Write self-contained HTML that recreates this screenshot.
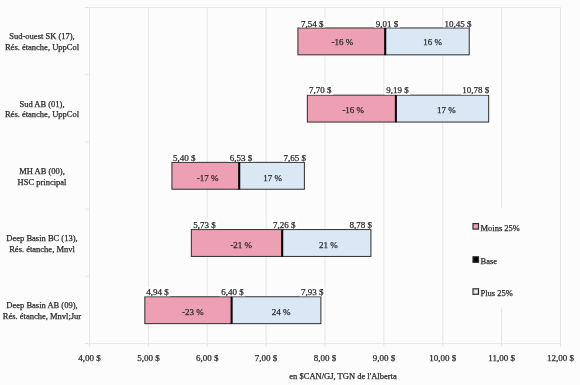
<!DOCTYPE html><html><head><meta charset="utf-8"><style>html,body{margin:0;padding:0;background:#fcfcfc;}svg{display:block;filter:blur(0.45px);} text{font-family:"Liberation Serif",serif;fill:#2a2a2a;stroke:#2a2a2a;stroke-width:0.25px;}</style></head><body>
<svg width="580" height="385" viewBox="0 0 580 385">
<rect x="0" y="0" width="580" height="385" fill="#fcfcfc"/>
<line x1="89.50" y1="7.5" x2="89.50" y2="346.5" stroke="#e6e6e6" stroke-width="1"/>
<line x1="148.38" y1="7.5" x2="148.38" y2="346.5" stroke="#e6e6e6" stroke-width="1"/>
<line x1="207.25" y1="7.5" x2="207.25" y2="346.5" stroke="#e6e6e6" stroke-width="1"/>
<line x1="266.12" y1="7.5" x2="266.12" y2="346.5" stroke="#e6e6e6" stroke-width="1"/>
<line x1="325.00" y1="7.5" x2="325.00" y2="346.5" stroke="#e6e6e6" stroke-width="1"/>
<line x1="383.88" y1="7.5" x2="383.88" y2="346.5" stroke="#e6e6e6" stroke-width="1"/>
<line x1="442.75" y1="7.5" x2="442.75" y2="346.5" stroke="#e6e6e6" stroke-width="1"/>
<line x1="501.62" y1="7.5" x2="501.62" y2="346.5" stroke="#e6e6e6" stroke-width="1"/>
<line x1="560.50" y1="7.5" x2="560.50" y2="346.5" stroke="#e6e6e6" stroke-width="1"/>
<line x1="89.5" y1="7.5" x2="560.5" y2="7.5" stroke="#e6e6e6" stroke-width="1"/>
<line x1="89.5" y1="343.5" x2="560.5" y2="343.5" stroke="#e6e6e6" stroke-width="1"/>
<rect x="466" y="208.5" width="66" height="99" fill="#fcfcfc"/>
<line x1="85" y1="7.50" x2="89.5" y2="7.50" stroke="#e6e6e6" stroke-width="1"/>
<line x1="85" y1="74.70" x2="89.5" y2="74.70" stroke="#e6e6e6" stroke-width="1"/>
<line x1="85" y1="141.90" x2="89.5" y2="141.90" stroke="#e6e6e6" stroke-width="1"/>
<line x1="85" y1="209.10" x2="89.5" y2="209.10" stroke="#e6e6e6" stroke-width="1"/>
<line x1="85" y1="276.30" x2="89.5" y2="276.30" stroke="#e6e6e6" stroke-width="1"/>
<line x1="85" y1="343.50" x2="89.5" y2="343.50" stroke="#e6e6e6" stroke-width="1"/>
<rect x="297.92" y="27.96" width="87.35" height="26.88" fill="#eda0b4" stroke="#2e2e2e" stroke-width="1"/>
<rect x="385.26" y="27.96" width="83.98" height="26.88" fill="#dae8f5" stroke="#2e2e2e" stroke-width="1"/>
<line x1="385.26" y1="27.96" x2="385.26" y2="54.84" stroke="#000" stroke-width="2"/>
<rect x="299.20" y="18.46" width="26.00" height="9" fill="#ffffff"/>
<rect x="374.00" y="18.46" width="26.00" height="9" fill="#ffffff"/>
<rect x="443.50" y="18.46" width="29.00" height="9" fill="#ffffff"/>
<rect x="307.34" y="95.16" width="88.52" height="26.88" fill="#eda0b4" stroke="#2e2e2e" stroke-width="1"/>
<rect x="395.86" y="95.16" width="92.81" height="26.88" fill="#dae8f5" stroke="#2e2e2e" stroke-width="1"/>
<line x1="395.86" y1="95.16" x2="395.86" y2="122.04" stroke="#000" stroke-width="2"/>
<rect x="307.30" y="85.66" width="25.70" height="9" fill="#ffffff"/>
<rect x="384.60" y="85.66" width="25.60" height="9" fill="#ffffff"/>
<rect x="460.90" y="85.66" width="29.50" height="9" fill="#ffffff"/>
<rect x="171.93" y="162.36" width="67.33" height="26.88" fill="#eda0b4" stroke="#2e2e2e" stroke-width="1"/>
<rect x="239.25" y="162.36" width="65.14" height="26.88" fill="#dae8f5" stroke="#2e2e2e" stroke-width="1"/>
<line x1="239.25" y1="162.36" x2="239.25" y2="189.24" stroke="#000" stroke-width="2"/>
<rect x="171.20" y="152.86" width="26.00" height="9" fill="#ffffff"/>
<rect x="227.90" y="152.86" width="26.40" height="9" fill="#ffffff"/>
<rect x="282.20" y="152.86" width="25.10" height="9" fill="#ffffff"/>
<rect x="191.35" y="229.56" width="90.88" height="26.88" fill="#eda0b4" stroke="#2e2e2e" stroke-width="1"/>
<rect x="282.23" y="229.56" width="88.69" height="26.88" fill="#dae8f5" stroke="#2e2e2e" stroke-width="1"/>
<line x1="282.23" y1="229.56" x2="282.23" y2="256.44" stroke="#000" stroke-width="2"/>
<rect x="191.60" y="220.06" width="26.00" height="9" fill="#ffffff"/>
<rect x="271.40" y="220.06" width="25.90" height="9" fill="#ffffff"/>
<rect x="347.70" y="220.06" width="26.30" height="9" fill="#ffffff"/>
<rect x="144.84" y="296.76" width="86.76" height="26.88" fill="#eda0b4" stroke="#2e2e2e" stroke-width="1"/>
<rect x="231.60" y="296.76" width="89.28" height="26.88" fill="#dae8f5" stroke="#2e2e2e" stroke-width="1"/>
<line x1="231.60" y1="296.76" x2="231.60" y2="323.64" stroke="#000" stroke-width="2"/>
<rect x="144.60" y="287.26" width="26.00" height="9" fill="#ffffff"/>
<rect x="219.60" y="287.26" width="25.60" height="9" fill="#ffffff"/>
<rect x="299.40" y="287.26" width="25.50" height="9" fill="#ffffff"/>
<text x="312.20" y="26.50" font-size="9" text-anchor="middle">7,54 $</text>
<text x="387.00" y="26.50" font-size="9" text-anchor="middle">9,01 $</text>
<text x="458.00" y="26.50" font-size="9" text-anchor="middle">10,45 $</text>
<text x="342.40" y="44.80" font-size="9" text-anchor="middle">-16 %</text>
<text x="432.55" y="44.80" font-size="9" text-anchor="middle">16 %</text>
<text x="42.00" y="39.40" font-size="8.5" text-anchor="middle">Sud-ouest SK (17),</text>
<text x="42.00" y="50.20" font-size="8.5" text-anchor="middle">Rés. étanche, UppCol</text>
<text x="320.15" y="93.30" font-size="9" text-anchor="middle">7,70 $</text>
<text x="397.40" y="93.30" font-size="9" text-anchor="middle">9,19 $</text>
<text x="475.65" y="93.30" font-size="9" text-anchor="middle">10,78 $</text>
<text x="353.25" y="112.50" font-size="9" text-anchor="middle">-16 %</text>
<text x="446.35" y="112.50" font-size="9" text-anchor="middle">17 %</text>
<text x="42.00" y="106.60" font-size="8.5" text-anchor="middle">Sud AB (01),</text>
<text x="42.00" y="117.40" font-size="8.5" text-anchor="middle">Rés. étanche, UppCol</text>
<text x="184.20" y="161.30" font-size="9" text-anchor="middle">5,40 $</text>
<text x="241.10" y="161.30" font-size="9" text-anchor="middle">6,53 $</text>
<text x="294.75" y="161.30" font-size="9" text-anchor="middle">7,65 $</text>
<text x="207.60" y="180.90" font-size="9" text-anchor="middle">-17 %</text>
<text x="272.65" y="180.90" font-size="9" text-anchor="middle">17 %</text>
<text x="42.00" y="173.80" font-size="8.5" text-anchor="middle">MH AB (00),</text>
<text x="42.00" y="184.60" font-size="8.5" text-anchor="middle">HSC principal</text>
<text x="204.60" y="228.30" font-size="9" text-anchor="middle">5,73 $</text>
<text x="284.35" y="228.30" font-size="9" text-anchor="middle">7,26 $</text>
<text x="360.85" y="228.30" font-size="9" text-anchor="middle">8,78 $</text>
<text x="241.25" y="247.90" font-size="9" text-anchor="middle">-21 %</text>
<text x="328.45" y="247.90" font-size="9" text-anchor="middle">21 %</text>
<text x="42.00" y="241.00" font-size="8.5" text-anchor="middle">Deep Basin BC (13),</text>
<text x="42.00" y="251.80" font-size="8.5" text-anchor="middle">Rés. étanche, Mnvl</text>
<text x="157.60" y="295.00" font-size="9" text-anchor="middle">4,94 $</text>
<text x="232.40" y="295.00" font-size="9" text-anchor="middle">6,40 $</text>
<text x="312.15" y="295.00" font-size="9" text-anchor="middle">7,93 $</text>
<text x="192.80" y="314.90" font-size="9" text-anchor="middle">-23 %</text>
<text x="281.05" y="314.90" font-size="9" text-anchor="middle">24 %</text>
<text x="42.00" y="308.20" font-size="8.5" text-anchor="middle">Deep Basin AB (09),</text>
<text x="42.00" y="319.00" font-size="8.5" text-anchor="middle">Rés. étanche, Mnvl;Jur</text>
<text x="89.50" y="360.70" font-size="9" text-anchor="middle">4,00 $</text>
<text x="148.38" y="360.70" font-size="9" text-anchor="middle">5,00 $</text>
<text x="207.25" y="360.70" font-size="9" text-anchor="middle">6,00 $</text>
<text x="266.12" y="360.70" font-size="9" text-anchor="middle">7,00 $</text>
<text x="325.00" y="360.70" font-size="9" text-anchor="middle">8,00 $</text>
<text x="383.88" y="360.70" font-size="9" text-anchor="middle">9,00 $</text>
<text x="442.75" y="360.70" font-size="9" text-anchor="middle">10,00 $</text>
<text x="501.62" y="360.70" font-size="9" text-anchor="middle">11,00 $</text>
<text x="560.50" y="360.70" font-size="9" text-anchor="middle">12,00 $</text>
<text x="343.00" y="378.80" font-size="8.5" text-anchor="middle">en $CAN/GJ, TGN de l&#39;Alberta</text>
<rect x="473" y="223.6" width="5.5" height="5.5" fill="#eda0b4" stroke="#2e2e2e" stroke-width="1.2"/>
<text x="480.5" y="230.70" font-size="8.5">Moins 25%</text>
<rect x="473" y="256.8" width="5.5" height="5.5" fill="#000" stroke="#2e2e2e" stroke-width="1.2"/>
<text x="480.5" y="263.90" font-size="8.5">Base</text>
<rect x="473" y="288.8" width="5.5" height="5.5" fill="#dae8f5" stroke="#2e2e2e" stroke-width="1.2"/>
<text x="480.5" y="295.90" font-size="8.5">Plus 25%</text>
</svg></body></html>
